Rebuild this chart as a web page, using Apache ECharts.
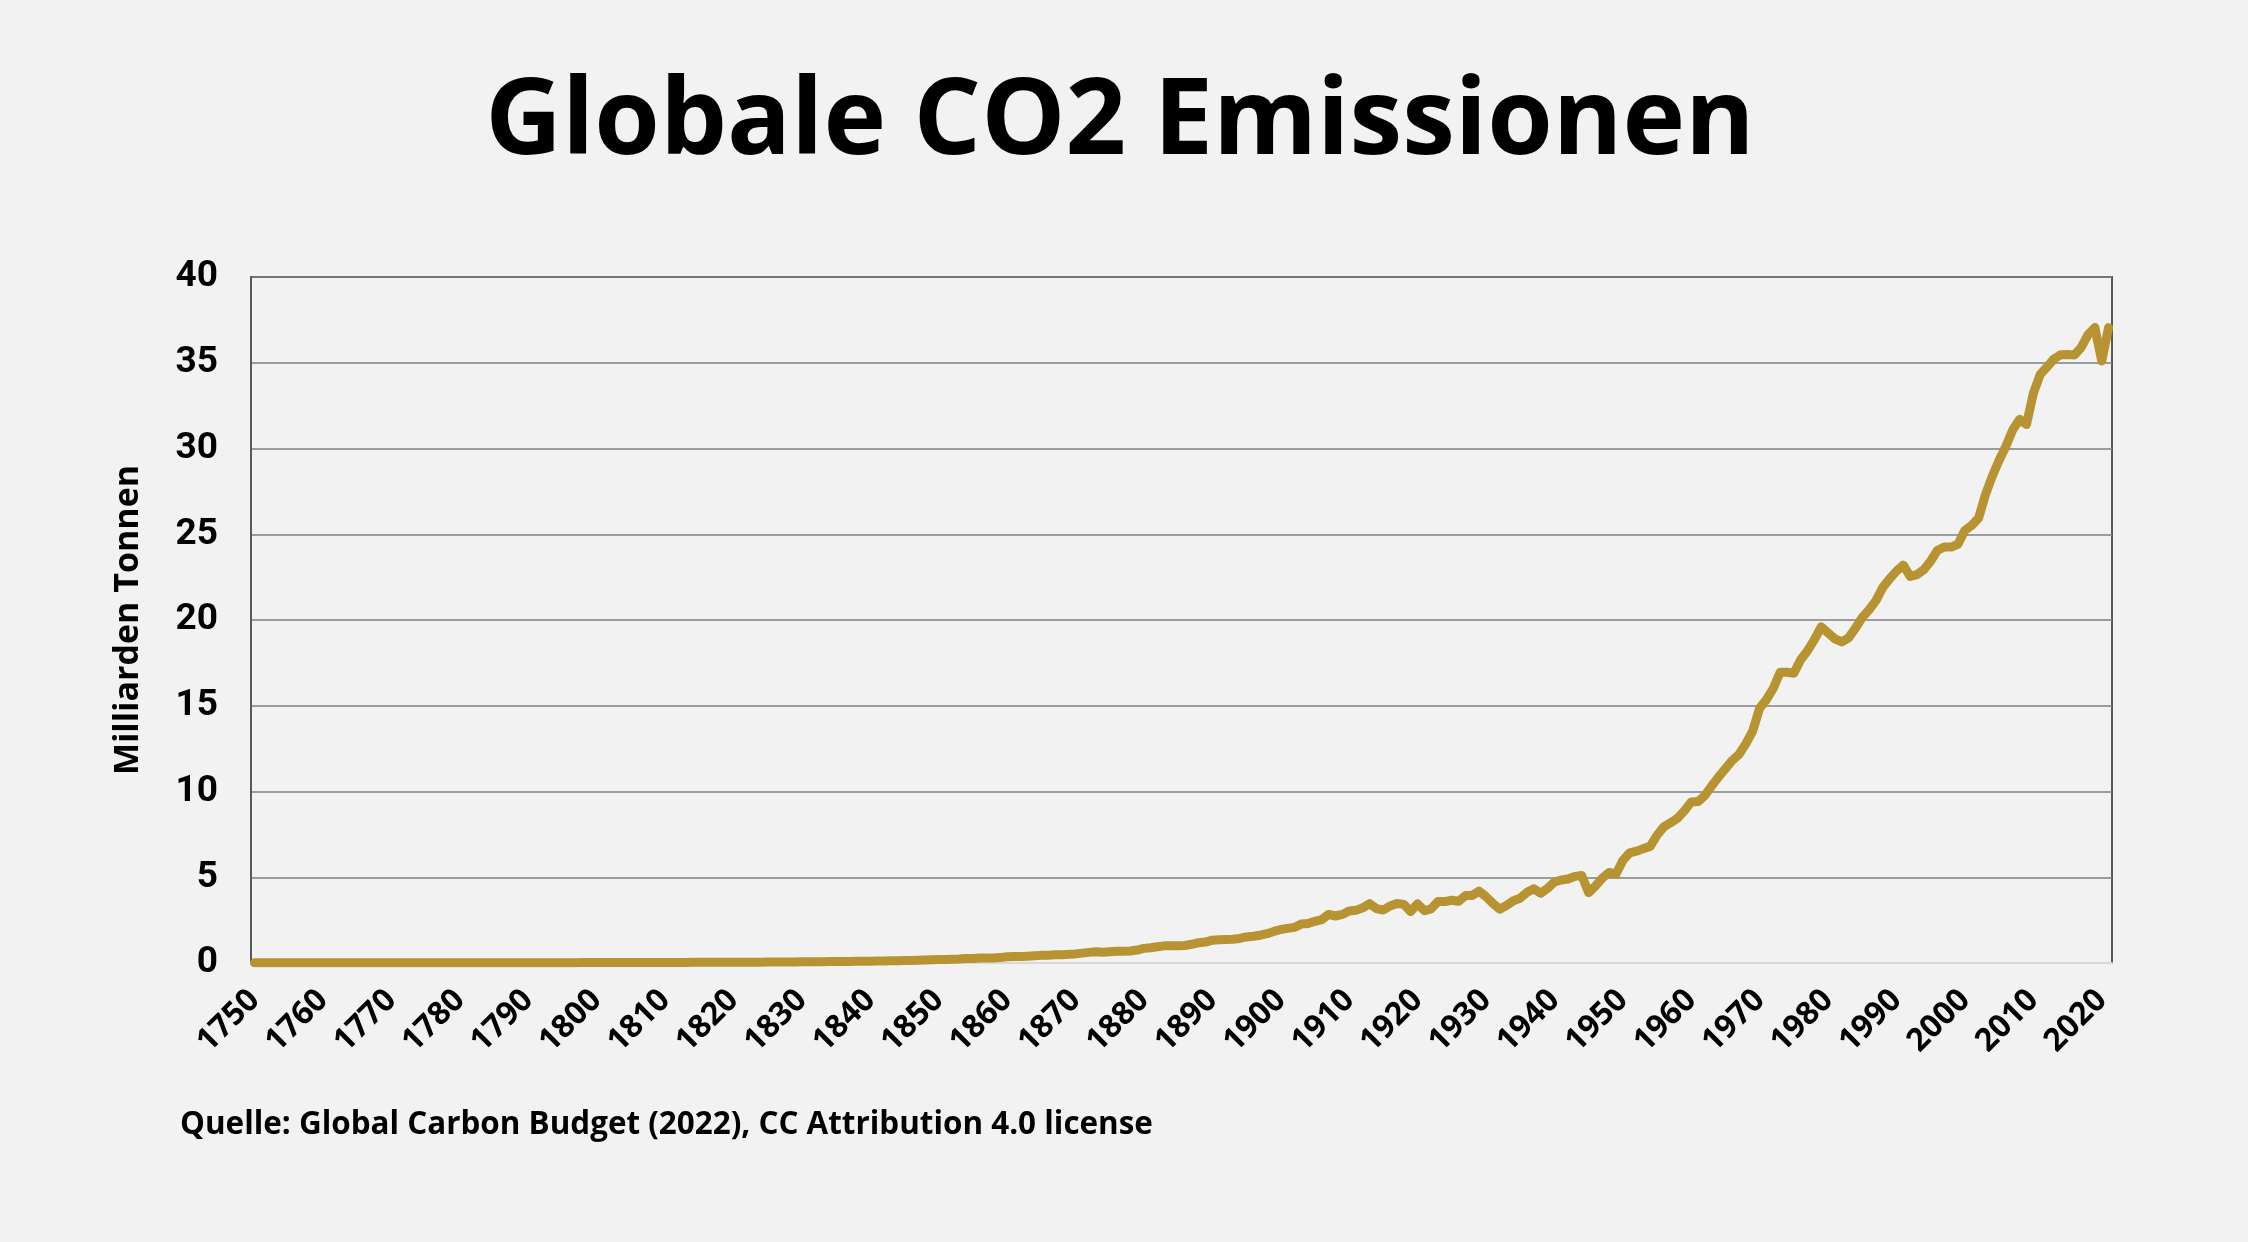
<!DOCTYPE html>
<html>
<head>
<meta charset="utf-8">
<title>Globale CO2 Emissionen</title>
<script src="https://cdn.jsdelivr.net/npm/echarts@6/dist/echarts.min.js"></script>
<style>
  html, body { margin: 0; padding: 0; background: #f2f2f2; }
  #chart { width: 2248px; height: 1242px; }
</style>
</head>
<body>
<div id="chart"></div>
<script>
// Jahre 1750 - 2021
const startYear = 1750;
const endYear = 2021;

// Emissionen in Milliarden Tonnen, je Jahrzehnt eine Zeile
const emissions1750 = [0.0094, 0.0094, 0.0094, 0.0094, 0.0094, 0.0094, 0.0101, 0.0101, 0.0101, 0.0101];
const emissions1760 = [0.0101, 0.0101, 0.0101, 0.0101, 0.0101, 0.0108, 0.0108, 0.0108, 0.0108, 0.0108];
const emissions1770 = [0.0108, 0.0108, 0.0108, 0.0108, 0.0108, 0.0115, 0.0115, 0.0115, 0.0115, 0.0115];
const emissions1780 = [0.0115, 0.0119, 0.0119, 0.0123, 0.0123, 0.0126, 0.0126, 0.0130, 0.0130, 0.0137];
const emissions1790 = [0.0147, 0.0151, 0.0162, 0.0169, 0.0172, 0.0180, 0.0195, 0.0206, 0.0227, 0.0252];
const emissions1800 = [0.0282, 0.0288, 0.0298, 0.0305, 0.0312, 0.0320, 0.0327, 0.0330, 0.0335, 0.0340];
const emissions1810 = [0.0345, 0.0350, 0.0356, 0.0361, 0.0367, 0.0373, 0.0380, 0.0394, 0.0405, 0.0418];
const emissions1820 = [0.0435, 0.0449, 0.0468, 0.0487, 0.0510, 0.0534, 0.0556, 0.0584, 0.0612, 0.0643];
const emissions1830 = [0.0681, 0.0714, 0.0749, 0.0785, 0.0822, 0.0860, 0.0898, 0.0936, 0.0974, 0.1010];
const emissions1840 = [0.1046, 0.111, 0.118, 0.125, 0.133, 0.142, 0.152, 0.164, 0.173, 0.184];
const emissions1850 = [0.197, 0.200, 0.215, 0.230, 0.258, 0.265, 0.285, 0.290, 0.295, 0.315];
const emissions1860 = [0.363, 0.375, 0.378, 0.395, 0.420, 0.445, 0.458, 0.485, 0.488, 0.505];
const emissions1870 = [0.531, 0.575, 0.620, 0.655, 0.625, 0.660, 0.680, 0.690, 0.700, 0.755];
const emissions1880 = [0.853, 0.890, 0.950, 1.000, 1.010, 1.010, 1.020, 1.090, 1.180, 1.220];
const emissions1890 = [1.330, 1.360, 1.370, 1.380, 1.430, 1.520, 1.560, 1.620, 1.710, 1.840];
const emissions1900 = [1.954, 2.02, 2.08, 2.27, 2.30, 2.43, 2.53, 2.83, 2.74, 2.83];
const emissions1910 = [3.03, 3.07, 3.22, 3.46, 3.17, 3.09, 3.33, 3.47, 3.42, 3.00];
const emissions1920 = [3.45, 3.05, 3.16, 3.59, 3.58, 3.66, 3.60, 3.93, 3.94, 4.19];
const emissions1930 = [3.87, 3.48, 3.14, 3.35, 3.63, 3.78, 4.12, 4.33, 4.07, 4.35];
const emissions1940 = [4.72, 4.84, 4.90, 5.05, 5.10, 4.10, 4.49, 4.95, 5.28, 5.17];
const emissions1950 = [5.98, 6.42, 6.52, 6.67, 6.80, 7.45, 7.94, 8.18, 8.44, 8.88];
const emissions1960 = [9.39, 9.41, 9.77, 10.33, 10.85, 11.33, 11.82, 12.17, 12.79, 13.54];
const emissions1970 = [14.86, 15.36, 16.02, 16.95, 16.95, 16.90, 17.68, 18.21, 18.85, 19.60];
const emissions1980 = [19.25, 18.90, 18.72, 18.96, 19.52, 20.15, 20.60, 21.13, 21.90, 22.40];
const emissions1990 = [22.85, 23.20, 22.54, 22.65, 22.93, 23.44, 24.07, 24.26, 24.25, 24.43];
const emissions2000 = [25.23, 25.52, 25.94, 27.30, 28.38, 29.31, 30.13, 31.10, 31.70, 31.40];
const emissions2010 = [33.21, 34.31, 34.75, 35.22, 35.47, 35.48, 35.45, 35.89, 36.64, 37.05];
const emissions2020 = [35.10, 37.05];

const emissions = [].concat(
  emissions1750, emissions1760, emissions1770, emissions1780, emissions1790,
  emissions1800, emissions1810, emissions1820, emissions1830, emissions1840,
  emissions1850, emissions1860, emissions1870, emissions1880, emissions1890,
  emissions1900, emissions1910, emissions1920, emissions1930, emissions1940,
  emissions1950, emissions1960, emissions1970, emissions1980, emissions1990,
  emissions2000, emissions2010, emissions2020
);

const years = [];
for (let y = startYear; y <= endYear; y++) {
  years.push(String(y));
}

const chart = echarts.init(document.getElementById('chart'));

const option = {
  backgroundColor: '#f2f2f2',
  animation: false,
  title: [
    {
      text: 'Globale CO2 Emissionen',
      left: 1115,
      textAlign: 'center',
      top: 66,
      textStyle: {
        fontFamily: 'Open Sans',
        fontWeight: 'bold',
        fontSize: 106,
        color: '#000'
      }
    },
    {
      text: 'Quelle: Global Carbon Budget (2022), CC Attribution 4.0 license',
      left: 175,
      top: 1105,
      textStyle: {
        fontFamily: 'Open Sans',
        fontWeight: 'bold',
        fontSize: 31.4,
        color: '#000'
      }
    }
  ],
  grid: {
    left: 251,
    right: 136,
    top: 277,
    bottom: 279,
    show: true,
    borderColor: '#595959',
    borderWidth: 2,
    backgroundColor: '#f2f2f2'
  },
  xAxis: {
    type: 'category',
    data: years,
    boundaryGap: true,
    axisLine: { lineStyle: { color: '#d9d9d9', width: 2 } },
    axisTick: { show: false },
    axisLabel: {
      interval: 9,
      rotate: 45,
      margin: 32,
      fontFamily: 'Open Sans',
      fontWeight: 'bold',
      fontSize: 32,
      color: '#000'
    },
    splitLine: { show: false }
  },
  yAxis: {
    type: 'value',
    min: 0,
    max: 40,
    interval: 5,
    name: 'Milliarden Tonnen',
    nameLocation: 'middle',
    nameGap: 106,
    nameTextStyle: {
      fontFamily: 'Open Sans',
      fontWeight: 'bold',
      fontSize: 34,
      color: '#000'
    },
    axisLine: { show: true, lineStyle: { color: '#595959', width: 2 } },
    axisTick: { show: false },
    axisLabel: {
      margin: 33,
      fontFamily: 'Roboto',
      fontWeight: 'bold',
      fontSize: 37,
      color: '#000'
    },
    splitLine: { lineStyle: { color: '#7f7f7f', width: 1.5 } }
  },
  series: [
    {
      name: 'CO2',
      type: 'line',
      data: emissions,
      showSymbol: false,
      lineStyle: { color: '#b89332', width: 9, join: 'round', cap: 'round' },
      itemStyle: { color: '#b89332' }
    }
  ]
};

chart.setOption(option);
</script>
</body>
</html>
